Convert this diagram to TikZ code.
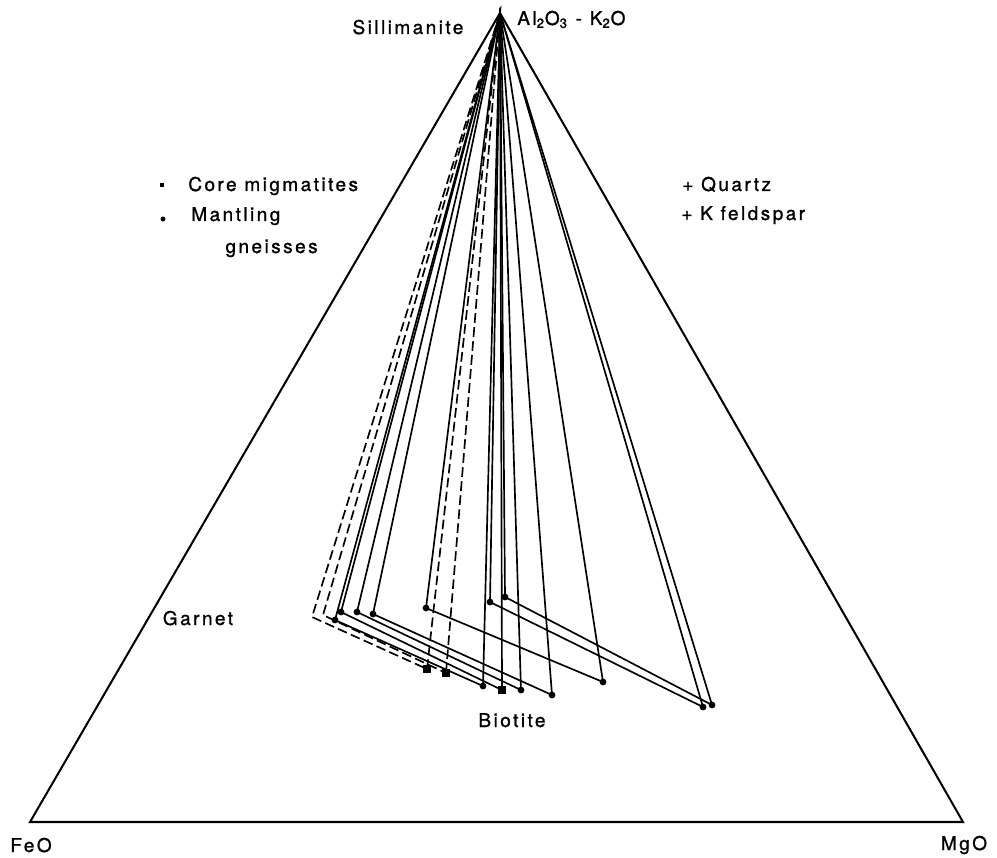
\documentclass[tikz,border=0pt]{standalone}
\usepackage{fontspec}
\newfontfamily\labfont[LetterSpace=13,FakeBold=1.2]{TeX Gyre Heros}
\begin{document}
\begin{tikzpicture}
  [x=0.02cm, y=-0.02cm,
   side/.style={line width=1.15pt, line join=miter},
   tie/.style={line width=0.95pt},
   tiedash/.style={line width=0.95pt, dash pattern=on 5.5pt off 2.5pt},
   gdot/.style={circle, fill=black, inner sep=0pt, minimum size=3.9pt},
   bsq/.style={rectangle, fill=black, inner sep=0pt, minimum size=4.2pt},
   lab/.style={font=\labfont\fontsize{10.8}{13}\selectfont, inner sep=0pt}]

  \useasboundingbox (0,0) rectangle (997,858);

  % Vértices del triángulo
  \coordinate (apex) at (500,13);
  \coordinate (feo) at (30,822);
  \coordinate (mgo) at (963,822);
  \draw[side] (apex) -- (feo) -- (mgo) -- cycle;

  % Granate
  \coordinate (g1) at (312,617);
  \coordinate (g2) at (323,615);
  \coordinate (g3) at (335,620);
  \coordinate (g4) at (341,612);
  \coordinate (g5) at (357,612);
  \coordinate (g6) at (373,614);
  \coordinate (g7) at (426,608);
  \coordinate (g8) at (490,602);
  \coordinate (g9) at (505,597);

  % Biotita
  \coordinate (b1) at (427,669);
  \coordinate (b2) at (446,673);
  \coordinate (b3) at (483,686);
  \coordinate (b4) at (502,690);
  \coordinate (b5) at (521,690);
  \coordinate (b6) at (552,695);
  \coordinate (b7) at (603,682);
  \coordinate (b8) at (703,707);
  \coordinate (b9) at (712,705);

  % Triángulos de enlace (migmatitas)
  \foreach \g/\b in {g1/b1, g2/b2}
    \draw[tiedash] (\b) -- (apex) -- (\g) -- (\b);

  % Triángulos de enlace (gneises)
  \foreach \g/\b in {g3/b3, g4/b4, g5/b5, g6/b6, g7/b7, g8/b8, g9/b9}
    \draw[tie] (\b) -- (apex) -- (\g) -- (\b);

  % Puntos
  \foreach \p in {g3, g4, g5, g6, g7, g8, g9, b3, b5, b6, b7, b8, b9}
    \node[gdot] (m\p) at (\p) {};
  \foreach \p in {b1, b2, b4}
    \node[bsq] (m\p) at (\p) {};

  % Etiquetas
  \node[lab, anchor=base] (sill) at (408,34) {Sillimanite};
  \node[lab, anchor=base west] (alk) at (517,25)
    {Al\textsubscript{2}O\textsubscript{3} - K\textsubscript{2}O};
  \node[lab, anchor=base] (feolab) at (31,852) {FeO};
  \node[lab, anchor=base] (mgolab) at (964,850) {MgO};
  \node[lab, anchor=base] (grt) at (198,625) {Garnet};
  \node[lab, anchor=base] (bt) at (512,727) {Biotite};

  % Leyenda
  \node[bsq, minimum size=2.6pt] (keysq) at (162,185) {};
  \node[lab, anchor=base west] (core) at (188,191) {Core migmatites};
  \node[gdot, minimum size=2.8pt] (keydot) at (163,219) {};
  \node[lab, anchor=base west] (mant) at (191,221) {Mantling};
  \node[lab, anchor=base east] (gneis) at (318,253) {gneisses};
  \node[lab, anchor=base west] (qtz) at (682,191) {+ Quartz};
  \node[lab, anchor=base west] (kfs) at (681,220) {+ K feldspar};
\end{tikzpicture}
\end{document}
